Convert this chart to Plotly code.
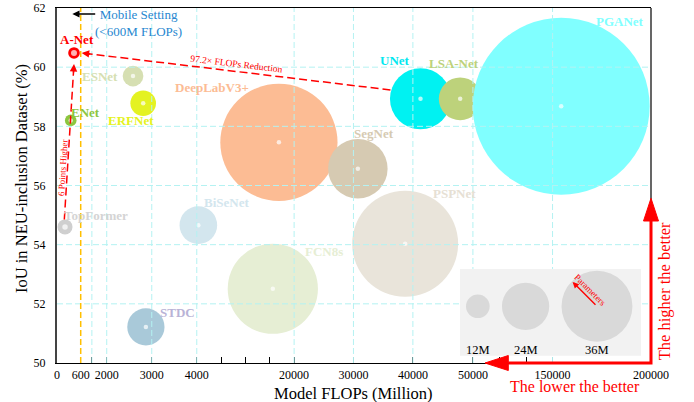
import math
import numpy as np
import plotly.graph_objects as go

# ---------------- data ----------------
MODELS = ["A-Net", "ENet", "TopFormer", "ESNet", "ERFNet", "DeepLabV3+", "SegNet",
          "UNet", "LSA-Net", "PGANet", "PSPNet", "BiSeNet", "FCN8s", "STDC"]
FLOPS = [430, 347, 203, 2584, 2810, 17500, 30740, 41270, 47880, 154400, 38700, 4260, 16500, 2870]
IOU = [60.48, 58.20, 54.60, 59.70, 58.78, 57.46, 56.57, 58.93, 58.93, 58.68, 54.03, 54.66, 52.51, 51.22]
PARAMS_M = [5.9, 5.9, 7.6, 10.5, 13.0, 59.5, 30.2, 31.0, 21.7, 89.8, 53.8, 19.1, 45.8, 18.9]

# piecewise axis (FLOPs knots -> axis units)
FLOP_KNOTS = [0, 600, 2000, 3000, 4000, 20000, 30000, 40000, 50000, 150000, 200000]
AXIS_POS = [0, 23.7, 49.7, 94.7, 139.7, 237.0, 296.3, 355.7, 415.7, 495.3, 593.7]

X_TICKS = [0, 600, 1200, 2000, 3000, 4000, 20000, 30000, 40000, 50000, 150000, 200000]
X_TICK_TEXT = ["0", "600", "", "2000", "3000", "4000", "20000", "30000", "40000", "50000", "150000", "200000"]
X_MINOR = [8000, 12000, 16000, 83333, 116667]
X_GRID = [1200, 2000, 3000, 4000, 20000, 30000, 40000, 50000, 150000]
Y_TICKS = [50, 52, 54, 56, 58, 60, 62]
Y_GRID = [52, 54, 56, 58, 60]
MOBILE_LIMIT = 600
LEGEND_PARAMS = [12, 24, 36]
LEGEND_TEXT = ["12M", "24M", "36M"]

# ---------------- styles ----------------
BUBBLE_COLORS = ["#ff0000", "#8cc63f", "#cfcfcf", "#d6dfb2", "#e4f222", "#fcbc94", "#d6cab2",
                 "#00f2f2", "#bdd27b", "#80ffff", "#e9e4da", "#d3e6ee", "#e6eed4", "#a9c9d9"]
LABEL_COLORS = ["#ff0000", "#8cc63f", "#d4d4d4", "#d6dfb2", "#e4f222", "#fcbc94", "#d6cab2",
                "#00e8f0", "#bdd27b", "#80ffff", "#e6e0d4", "#d3e6ee", "#e6eed4", "#b9b3d6"]
LABEL_OFFSETS = [(3, 13), (15, 8), (31, 11), (-33, 0), (-12, -17.5), (-67, 55), (16, 35),
                 (-26, 38), (-6, 35), (59, 85), (49, 50), (28, 23), (51, 37), (32, 14)]
DOT_SIZES = [6, 4.5, 5.5, 4.5, 4.5, 4.5, 4.5, 4.5, 4.5, 4.5, 4.5, 4.5, 4.5, 4.5]
PX_PER_M = 1.97
FONT = "Liberation Serif"
GRID_COLOR = "#b4f2f2"
RED = "#ff0000"

W, H = 694, 402
ML, MR, MT, MB = 57, 43, 8, 39
PW, PH = W - ML - MR, H - MT - MB
Y_RANGE = [50, 62]
PX_Y = PH / (Y_RANGE[1] - Y_RANGE[0])   # px per IoU unit


def tx(v):
    return float(np.interp(v, FLOP_KNOTS, AXIS_POS))


def pxx(px):  # pixel -> paper x
    return (px - ML) / PW


def pxy(py):  # pixel -> paper y
    return (H - MB - py) / PH


xs = [tx(v) for v in FLOPS]
sizes = [p * PX_PER_M for p in PARAMS_M]
idx = {m: i for i, m in enumerate(MODELS)}

fig = go.Figure()
fig.add_trace(go.Scatter(x=xs, y=IOU, mode="markers",
                         marker=dict(size=sizes, color=BUBBLE_COLORS, line=dict(width=0), opacity=1),
                         hoverinfo="text", text=MODELS, showlegend=False))
fig.add_trace(go.Scatter(x=xs, y=IOU, mode="markers",
                         marker=dict(size=DOT_SIZES, color="white", line=dict(width=0)),
                         hoverinfo="skip", showlegend=False))

shapes = []
annotations = []

# grid lines (drawn above bubbles)
for g in X_GRID:
    shapes.append(dict(type="line", xref="x", yref="y", x0=tx(g), x1=tx(g), y0=Y_RANGE[0], y1=Y_RANGE[1],
                       line=dict(color=GRID_COLOR, width=1, dash="6px,3px"), layer="above"))
for g in Y_GRID:
    shapes.append(dict(type="line", xref="x", yref="y", x0=0, x1=AXIS_POS[-1], y0=g, y1=g,
                       line=dict(color=GRID_COLOR, width=1, dash="6px,3px"), layer="above"))

# mobile setting boundary
shapes.append(dict(type="line", xref="x", yref="y", x0=tx(MOBILE_LIMIT), x1=tx(MOBILE_LIMIT),
                   y0=Y_RANGE[0], y1=Y_RANGE[1], line=dict(color="#ffbf00", width=1.5, dash="6px,3px"),
                   layer="above"))
annotations.append(dict(x=tx(MOBILE_LIMIT) - 8.4, y=Y_RANGE[1] - 6 / PX_Y, xref="x", yref="y",
                        text="", showarrow=True, ax=24.4, ay=0, arrowhead=2, arrowsize=0.9,
                        arrowwidth=1.6, arrowcolor="black"))
annotations.append(dict(x=tx(MOBILE_LIMIT) + 57.3, y=Y_RANGE[1] - 14.5 / PX_Y, xref="x", yref="y",
                        text="Mobile Setting<br>(<600M FLOPs)", showarrow=False, align="center",
                        font=dict(family=FONT, size=13, color="#2787d0")))

# red dashed arrow: UNet -> A-Net (FLOPs reduction)
a, u = idx["A-Net"], idx["UNet"]
sx, sy = xs[u] - sizes[u] / 2 + 0.5, IOU[u] + 0.3
ex, ey = xs[a] + 7.7, IOU[a]
dxp, dyp = (sx - ex), (ey - sy) * PX_Y
ln = math.hypot(dxp, dyp)
shapes.append(dict(type="line", xref="x", yref="y", x0=sx, y0=sy, x1=ex + 6 * dxp / ln, y1=ey - 6 * dyp / ln / PX_Y,
                   line=dict(color=RED, width=1.5, dash="8px,4px"), layer="above"))
annotations.append(dict(x=ex, y=ey, xref="x", yref="y", text="", showarrow=True,
                        ax=10 * dxp / ln, ay=10 * dyp / ln, arrowhead=2, arrowsize=1, arrowwidth=1.5,
                        arrowcolor=RED))
ang = math.degrees(math.atan2(dyp, dxp))
annotations.append(dict(x=(sx + ex) / 2, y=(sy + ey) / 2, xref="x", yref="y", yshift=7.6,
                        text="97.2× FLOPs Reduction", showarrow=False, textangle=ang,
                        font=dict(family=FONT, size=9.5, color=RED)))

# red dashed arrow: TopFormer -> A-Net (points higher)
t = idx["TopFormer"]
vx0, vy0 = xs[t] - 0.7, IOU[t] + (sizes[t] / 2) / PX_Y
vx1, vy1 = xs[a], IOU[a] - 11 / PX_Y
dxp2, dyp2 = (vx0 - vx1), (vy1 - vy0) * PX_Y
ln2 = math.hypot(dxp2, dyp2)
shapes.append(dict(type="line", xref="x", yref="y", x0=vx0, y0=vy0, x1=vx1 + 6 * dxp2 / ln2,
                   y1=vy1 - 6 * dyp2 / ln2 / PX_Y, line=dict(color=RED, width=1.5, dash="8px,4px"),
                   layer="above"))
annotations.append(dict(x=vx1, y=vy1, xref="x", yref="y", text="", showarrow=True,
                        ax=10 * dxp2 / ln2, ay=10 * dyp2 / ln2, arrowhead=2, arrowsize=1, arrowwidth=1.5,
                        arrowcolor=RED))
ang2 = math.degrees(math.atan2(dyp2, dxp2)) - 180
annotations.append(dict(x=vx0 + 0.33 * (vx1 - vx0), y=vy0 + 0.33 * (vy1 - vy0), xref="x", yref="y",
                        xshift=-4.5, text="6 Points Higher", showarrow=False, textangle=ang2,
                        font=dict(family=FONT, size=9, color=RED)))

# model labels
for i, m in enumerate(MODELS):
    dx, dy = LABEL_OFFSETS[i]
    annotations.append(dict(x=xs[i], y=IOU[i], xref="x", yref="y", xshift=dx, yshift=dy,
                            text=f"<b>{m}</b>", showarrow=False,
                            font=dict(family=FONT, size=13, color=LABEL_COLORS[i])))

# size legend
shapes.append(dict(type="rect", xref="paper", yref="paper", x0=pxx(460), x1=pxx(641), y0=pxy(355.7),
                   y1=pxy(269), fillcolor="#f2f2f2", line=dict(width=0), layer="above"))
left = 466
cy = pxy(306.3)
centers = []
for p, lab in zip(LEGEND_PARAMS, LEGEND_TEXT):
    d = p * PX_PER_M
    cxp = left + d / 2
    centers.append(cxp)
    shapes.append(dict(type="circle", xref="paper", yref="paper", xsizemode="pixel", ysizemode="pixel",
                       xanchor=pxx(cxp), yanchor=cy, x0=-d / 2, x1=d / 2, y0=-d / 2, y1=d / 2,
                       fillcolor="#d9d9d9", line=dict(width=0), layer="above"))
    annotations.append(dict(x=pxx(cxp), y=pxy(350), xref="paper", yref="paper", text=lab,
                            showarrow=False, font=dict(family=FONT, size=12.5, color="black")))
    left += d + 12.3
cbig = centers[-1]
annotations.append(dict(x=pxx(cbig - 24.4), y=pxy(306.3 - 24.4), xref="paper", yref="paper", text="",
                        showarrow=True, ax=24.4, ay=24.4, arrowhead=2, arrowsize=0.9, arrowwidth=1.4,
                        arrowcolor=RED))
annotations.append(dict(x=pxx(cbig - 6.8), y=pxy(306.3 - 16.3), xref="paper", yref="paper",
                        text="Parameters", showarrow=False, textangle=45,
                        font=dict(family=FONT, size=9, color=RED)))

# right spine
shapes.append(dict(type="line", xref="paper", yref="paper", x0=1, x1=1, y0=0, y1=1,
                   line=dict(color="black", width=1.2), layer="above"))
# big red "better" arrows
yb, yt = pxy(221), pxy(198.3)
xb, xt = pxx(508.3), pxx(485)
hw_x, hw_y = 7.5 / PW, 7.5 / PH
shapes.append(dict(type="path", xref="paper", yref="paper",
                   path=f"M {xb},0 L 1,0 L 1,{yb}", line=dict(color=RED, width=3), layer="above"))
shapes.append(dict(type="path", xref="paper", yref="paper",
                   path=f"M 1,{yt} L {1 - hw_x},{yb} L {1 + hw_x},{yb} Z", fillcolor=RED,
                   line=dict(color=RED, width=1), layer="above"))
shapes.append(dict(type="path", xref="paper", yref="paper",
                   path=f"M {xt},0 L {xb},{hw_y} L {xb},{-hw_y} Z", fillcolor=RED,
                   line=dict(color=RED, width=1), layer="above"))
annotations.append(dict(x=pxx(575), y=pxy(387), xref="paper", yref="paper", text="The lower the better",
                        showarrow=False, font=dict(family=FONT, size=16, color=RED)))
annotations.append(dict(x=pxx(664.3), y=pxy(291), xref="paper", yref="paper", text="The higher the better",
                        showarrow=False, textangle=-90, font=dict(family=FONT, size=16.5, color=RED)))

# axis titles
annotations.append(dict(x=pxx(353), y=pxy(393.3), xref="paper", yref="paper", text="Model FLOPs (Million)",
                        showarrow=False, font=dict(family=FONT, size=16.5, color="black")))
annotations.append(dict(x=pxx(21.5), y=pxy(178.5), xref="paper", yref="paper",
                        text="IoU in NEU-inclusion Dataset (%)", showarrow=False, textangle=-90,
                        font=dict(family=FONT, size=16.5, color="black")))

for an in annotations:
    if not an.get("showarrow"):
        an["xanchor"] = "center"
        an["yanchor"] = "middle"

fig.update_layout(
    width=W, height=H, autosize=False,
    margin=dict(l=ML, r=MR, t=MT, b=MB, pad=0, autoexpand=False),
    paper_bgcolor="white", plot_bgcolor="white",
    shapes=shapes, annotations=annotations, showlegend=False,
    xaxis=dict(range=[0, AXIS_POS[-1]], tickmode="array", tickvals=[tx(v) for v in X_TICKS],
               ticktext=X_TICK_TEXT, ticks="inside", ticklen=6, tickcolor="black", tickwidth=1,
               showgrid=False, zeroline=False, showline=True, linecolor="black", linewidth=1.2,
               mirror=True, tickfont=dict(family=FONT, size=12, color="black"), automargin=False,
               minor=dict(tickvals=[tx(v) for v in X_MINOR], ticks="inside", ticklen=6,
                          tickcolor="black", tickwidth=1, showgrid=False),
               fixedrange=True),
    yaxis=dict(range=Y_RANGE, tickmode="array", tickvals=Y_TICKS, ticks="", showgrid=False,
               zeroline=False, showline=True, linecolor="#444444", linewidth=2, automargin=False,
               tickfont=dict(family=FONT, size=12, color="black"), ticklabelstandoff=7,
               fixedrange=True),
)

fig.write_html("out.html", config={"displayModeBar": False},
               post_script="document.body.style.margin='0px';")
